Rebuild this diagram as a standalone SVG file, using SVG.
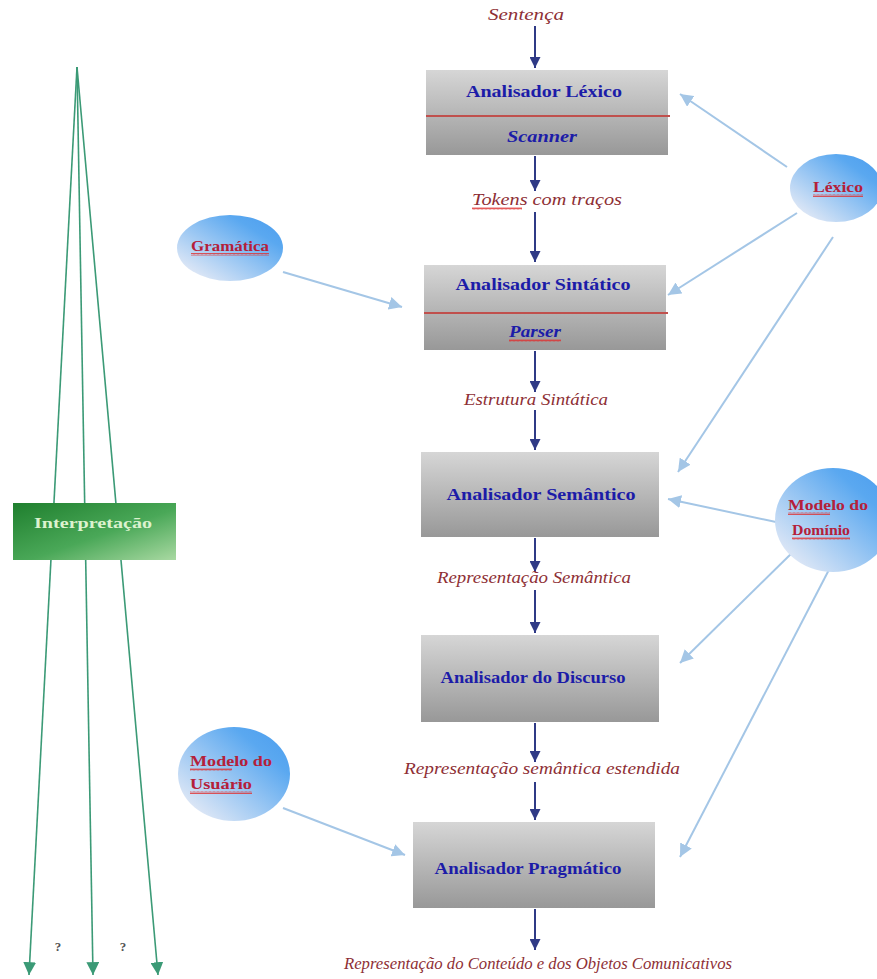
<svg xmlns="http://www.w3.org/2000/svg" width="877" height="979" viewBox="0 0 877 979">
  <defs>
    <linearGradient id="boxFill" x1="0" y1="0" x2="0" y2="1">
      <stop offset="0" stop-color="#d6d6d6"/>
      <stop offset="1" stop-color="#989898"/>
    </linearGradient>
    <linearGradient id="ovalFill" x1="0" y1="1" x2="1" y2="0">
      <stop offset="0.1" stop-color="#e4eaf6"/>
      <stop offset="0.75" stop-color="#5aa8f0"/>
      <stop offset="1" stop-color="#4a9cee"/>
    </linearGradient>
    <linearGradient id="greenFill" x1="0" y1="0" x2="1" y2="1">
      <stop offset="0" stop-color="#1f7f2e"/>
      <stop offset="0.55" stop-color="#4aa858"/>
      <stop offset="1" stop-color="#a9d9a2"/>
    </linearGradient>
    <pattern id="squiggle" width="4" height="3" patternUnits="userSpaceOnUse">
      <path d="M0 2.5 L1 0.5 L2 2.5 L3 0.5 L4 2.5" fill="none" stroke="#e03030" stroke-width="0.8"/>
    </pattern>
    <marker id="arrowDark" viewBox="0 0 10 10" refX="10" refY="5" markerWidth="5.5" markerHeight="5.5" orient="auto" markerUnits="strokeWidth">
      <path d="M0 0 L10 5 L0 10 Z" fill="#2f3a86"/>
    </marker>
    <marker id="arrowLight" viewBox="0 0 10 10" refX="10" refY="5" markerWidth="6.5" markerHeight="6.5" orient="auto" markerUnits="strokeWidth">
      <path d="M0 0 L10 5 L0 10 Z" fill="#a4c6e6"/>
    </marker>
    <marker id="arrowGreen" viewBox="0 0 10 10" refX="10" refY="5" markerWidth="8" markerHeight="8" orient="auto" markerUnits="strokeWidth">
      <path d="M0 0 L10 5 L0 10 Z" fill="#3b9a76"/>
    </marker>
  </defs>
  <style>
    .box { fill: url(#boxFill); }
    .sep { stroke: #c0504d; stroke-width: 2; }
    .title { font-family: "Liberation Serif", "Times New Roman", serif; font-weight: bold; font-size: 17px; fill: #1c1ca8; text-anchor: middle; }
    .sub { font-family: "Liberation Serif", "Times New Roman", serif; font-weight: bold; font-style: italic; font-size: 17px; fill: #1c1ca8; text-anchor: middle; }
    .flow { font-family: "Liberation Serif", "Times New Roman", serif; font-style: italic; font-size: 16px; fill: #8e2f35; text-anchor: middle; }
    .oval { fill: url(#ovalFill); }
    .ovalText { font-family: "Liberation Serif", "Times New Roman", serif; font-weight: bold; font-size: 15px; fill: #b4203a; }
    .main { fill: none; stroke: #2f3a86; stroke-width: 2; marker-end: url(#arrowDark); }
    .src { fill: none; stroke: #a4c6e6; stroke-width: 2; marker-end: url(#arrowLight); }
    .fan { fill: none; stroke: #3b9a76; stroke-width: 1.6; marker-end: url(#arrowGreen); }
    .wave { fill: url(#squiggle); }
    .q { font-family: "Liberation Serif", "Times New Roman", serif; font-weight: bold; font-size: 13px; fill: #555; text-anchor: middle; }
  </style>

  <!-- interpretation fan on the left -->
  <g id="fan">
    <path class="fan" d="M77 67 L29 975"/>
    <path class="fan" d="M77 67 L93 975"/>
    <path class="fan" d="M77 67 L158 975"/>
    <text class="q" x="58" y="951">?</text>
    <text class="q" x="123" y="951">?</text>
  </g>
  <g id="interpretacao">
    <rect x="13" y="503" width="163" height="57" fill="url(#greenFill)"/>
    <text x="93" y="528" font-family="Liberation Serif, Times New Roman, serif" font-weight="bold" font-size="15" fill="#dcf2cf" text-anchor="middle" textLength="118" lengthAdjust="spacingAndGlyphs">Interpretação</text>
  </g>

  <!-- connectors -->
  <g id="connectors">
    <path class="main" d="M535 26 L535 68"/>
    <path class="main" d="M535 156 L535 191"/>
    <path class="main" d="M535 212 L535 262"/>
    <path class="main" d="M535 351 L535 392"/>
    <path class="main" d="M535 410 L535 450"/>
    <path class="main" d="M535 538 L535 572"/>
    <path class="main" d="M535 590 L535 633"/>
    <path class="main" d="M535 723 L535 762"/>
    <path class="main" d="M535 782 L535 820"/>
    <path class="main" d="M535 909 L535 950"/>

    <path class="src" d="M787 167 L680 94"/>
    <path class="src" d="M797 213 L668 295"/>
    <path class="src" d="M833 237 L678 472"/>
    <path class="src" d="M283 272 L402 307"/>
    <path class="src" d="M776 522 L668 499"/>
    <path class="src" d="M797 548 L680 663"/>
    <path class="src" d="M833 562 L680 857"/>
    <path class="src" d="M283 808 L405 855"/>
  </g>

  <!-- flow labels -->
  <g id="labels">
    <text class="flow" x="526" y="20" textLength="76" lengthAdjust="spacingAndGlyphs">Sentença</text>
    <text class="flow" x="547" y="205" textLength="150" lengthAdjust="spacingAndGlyphs">Tokens com traços</text>
    <rect class="wave" x="472" y="207" width="50" height="3"/>
    <text class="flow" x="536" y="405" textLength="144" lengthAdjust="spacingAndGlyphs">Estrutura Sintática</text>
    <text class="flow" x="534" y="583" textLength="194" lengthAdjust="spacingAndGlyphs">Representação Semântica</text>
    <text class="flow" x="542" y="774" textLength="276" lengthAdjust="spacingAndGlyphs">Representação semântica estendida</text>
    <text class="flow" x="538" y="969" textLength="388" lengthAdjust="spacingAndGlyphs">Representação do Conteúdo e dos Objetos Comunicativos</text>
  </g>

  <!-- analysis stages -->
  <g id="lexico-box">
    <rect class="box" x="426" y="70" width="242" height="85"/>
    <line class="sep" x1="426" y1="116" x2="670" y2="116"/>
    <text class="title" x="544" y="97" textLength="156" lengthAdjust="spacingAndGlyphs">Analisador Léxico</text>
    <text class="sub" x="542" y="142" textLength="70" lengthAdjust="spacingAndGlyphs">Scanner</text>
  </g>
  <g id="sintatico-box">
    <rect class="box" x="424" y="265" width="242" height="85"/>
    <line class="sep" x1="424" y1="313" x2="668" y2="313"/>
    <text class="title" x="543" y="290" textLength="175" lengthAdjust="spacingAndGlyphs">Analisador Sintático</text>
    <text class="sub" x="535" y="337" textLength="52" lengthAdjust="spacingAndGlyphs">Parser</text>
    <rect class="wave" x="509" y="339" width="52" height="3"/>
  </g>
  <g id="semantico-box">
    <rect class="box" x="421" y="452" width="238" height="85"/>
    <text class="title" x="541" y="500" textLength="189" lengthAdjust="spacingAndGlyphs">Analisador Semântico</text>
  </g>
  <g id="discurso-box">
    <rect class="box" x="421" y="635" width="238" height="87"/>
    <text class="title" x="533" y="683" textLength="185" lengthAdjust="spacingAndGlyphs">Analisador do Discurso</text>
  </g>
  <g id="pragmatico-box">
    <rect class="box" x="413" y="822" width="242" height="86"/>
    <text class="title" x="528" y="874" textLength="187" lengthAdjust="spacingAndGlyphs">Analisador Pragmático</text>
  </g>

  <!-- knowledge sources -->
  <g id="lexico">
    <ellipse class="oval" cx="836" cy="188" rx="46" ry="34"/>
    <text class="ovalText" x="838" y="192" text-anchor="middle" textLength="50" lengthAdjust="spacingAndGlyphs">Léxico</text>
    <rect class="wave" x="813" y="194" width="50" height="3"/>
  </g>
  <g id="gramatica">
    <ellipse class="oval" cx="230" cy="248" rx="53" ry="33"/>
    <text class="ovalText" x="230" y="251" text-anchor="middle" textLength="78" lengthAdjust="spacingAndGlyphs">Gramática</text>
    <rect class="wave" x="191" y="253" width="78" height="3"/>
  </g>
  <g id="modelo-dominio">
    <ellipse class="oval" cx="833" cy="520" rx="58" ry="52"/>
    <text class="ovalText" x="788" y="510" textLength="80" lengthAdjust="spacingAndGlyphs">Modelo do</text>
    <rect class="wave" x="788" y="512" width="42" height="3"/>
    <text class="ovalText" x="792" y="535" textLength="58" lengthAdjust="spacingAndGlyphs">Domínio</text>
    <rect class="wave" x="792" y="537" width="58" height="3"/>
  </g>
  <g id="modelo-usuario">
    <ellipse class="oval" cx="234" cy="774" rx="56" ry="47"/>
    <text class="ovalText" x="190" y="766" textLength="82" lengthAdjust="spacingAndGlyphs">Modelo do</text>
    <rect class="wave" x="190" y="768" width="42" height="3"/>
    <text class="ovalText" x="190" y="789" textLength="62" lengthAdjust="spacingAndGlyphs">Usuário</text>
    <rect class="wave" x="190" y="791" width="62" height="3"/>
  </g>
</svg>
